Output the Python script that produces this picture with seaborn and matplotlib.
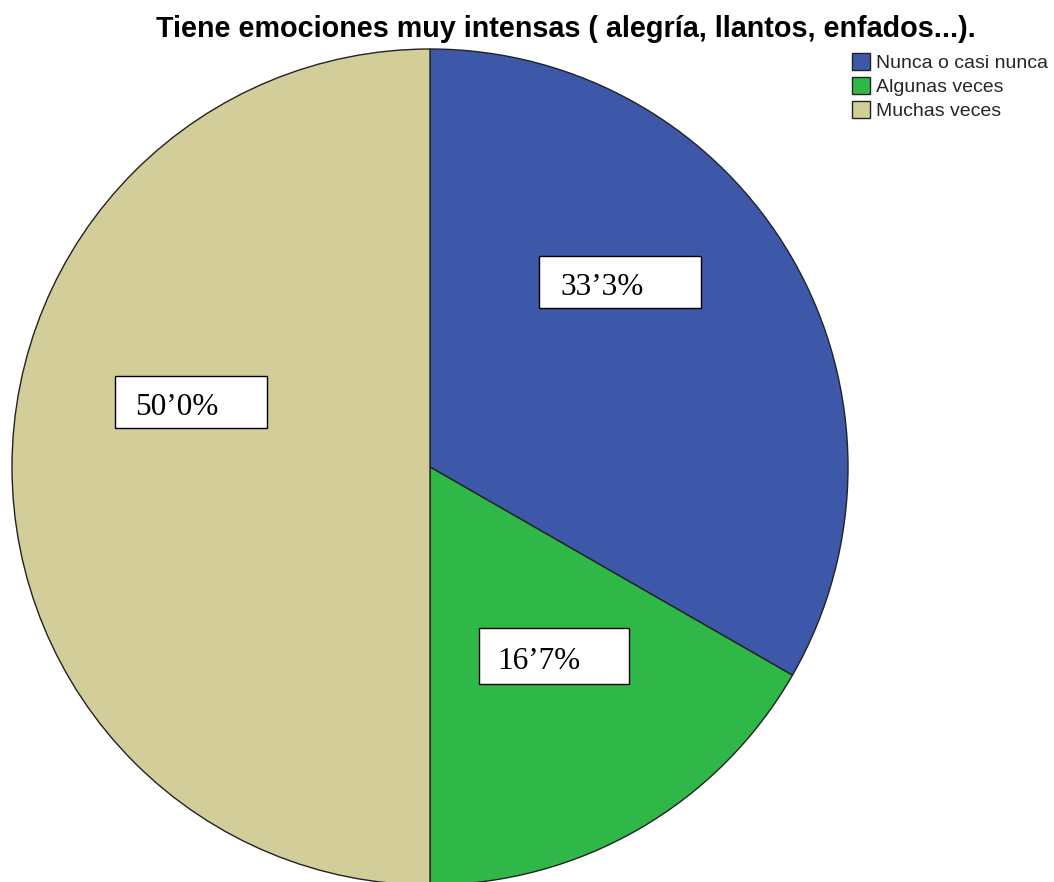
import matplotlib
matplotlib.use("Agg")
import matplotlib.pyplot as plt
import seaborn as sns
from matplotlib.patches import Rectangle, Patch

sns.set_theme(style="white")
plt.rcParams['font.family'] = ['Liberation Sans', 'DejaVu Sans']

title = "Tiene emociones muy intensas ( alegría, llantos, enfados...)."
categories = ["Nunca o casi nunca", "Algunas veces", "Muchas veces"]
values = [33.3, 16.7, 50.0]
colors = ["#3D58A8", "#2FB848", "#D3CE99"]

W, H = 1054, 882
fig = plt.figure(figsize=(W / 100, H / 100), dpi=100)
fig.patch.set_facecolor("white")

# pie axes: centre (430, 467) px from top-left, radius 418 px
cx, cy, r = 430, 467, 418
ax = fig.add_axes([(cx - r) / W, (H - cy - r) / H, 2 * r / W, 2 * r / H])
wedges, _ = ax.pie(values, colors=colors, startangle=90, counterclock=False,
                   wedgeprops=dict(edgecolor="#222222", linewidth=1.0))
ax.set_xlim(-1, 1)
ax.set_ylim(-1, 1)
ax.set_aspect("auto")
ax.axis("off")

def fx(x):
    return x / W

def fy(y):
    return 1 - y / H

# label boxes (px: left, top, right, bottom) and text start x
boxes = [(539, 256, 701, 308, 560), (479, 628, 629, 684, 497), (115, 376, 267, 428, 135)]
for (l, t, rr, b, tx), v in zip(boxes, values):
    fig.add_artist(Rectangle((fx(l), fy(b)), fx(rr - l), (b - t) / H,
                             transform=fig.transFigure, facecolor="white",
                             edgecolor="black", linewidth=1.0, zorder=5))
    label = f"{v:.1f}%".replace(".", "\u2019")
    fig.text(fx(tx), fy((t + b) / 2 + 13), label, ha="left", va="baseline",
             fontsize=22.5, family=["Liberation Serif", "DejaVu Serif"], color="black", zorder=6)

fig.text(fx(566), fy(37), title, ha="center", va="baseline", fontsize=20.7,
         fontweight="bold", color="black")

handles = [Patch(facecolor=c, edgecolor="#222222", linewidth=1.0) for c in colors]
fig.legend(handles, categories, loc="upper left", bbox_to_anchor=(fx(852), fy(53)),
           frameon=False, fontsize=14, handlelength=0.95, handleheight=0.95,
           handletextpad=0.3, labelspacing=0.25, borderaxespad=0, borderpad=0)

fig.savefig("out.png", dpi=100, facecolor="white")
